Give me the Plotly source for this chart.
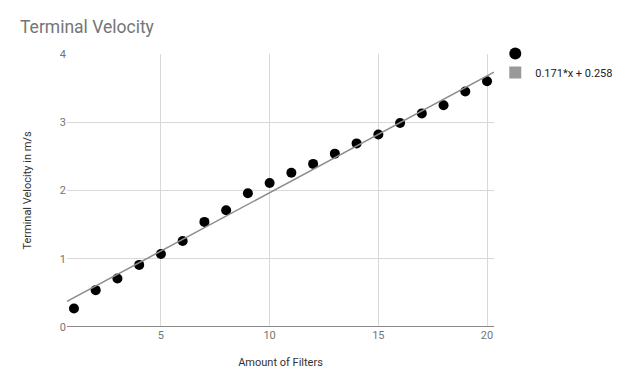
import plotly.graph_objects as go

filters = list(range(1, 21))
velocity = [0.27, 0.54, 0.71, 0.91, 1.07, 1.26, 1.54, 1.71, 1.96, 2.11,
            2.26, 2.39, 2.54, 2.69, 2.82, 2.99, 3.13, 3.25, 3.45, 3.60]
slope = 0.171
intercept = 0.258
trend_label = "0.171*x + 0.258"
x_range = [0.68, 20.32]
x_ticks = [5, 10, 15, 20]
y_ticks = [0, 1, 2, 3, 4]

trend_x = x_range
trend_y = [slope * v + intercept for v in trend_x]

fig = go.Figure()
fig.add_trace(go.Scatter(
    x=filters, y=velocity, mode="markers", name="",
    marker=dict(color="black", size=10, symbol="circle"),
))
fig.add_trace(go.Scatter(
    x=trend_x, y=trend_y, mode="lines", showlegend=False,
    line=dict(color="#8c8c8c", width=1.5),
))
fig.add_trace(go.Scatter(
    x=[None], y=[None], mode="markers", name=trend_label,
    marker=dict(color="#999999", size=10, symbol="square"),
))

fig.update_layout(
    width=616, height=380,
    margin=dict(l=59, r=130, t=46, b=61, autoexpand=False),
    paper_bgcolor="white", plot_bgcolor="white",
    font=dict(family="Roboto", color="#222222", size=11),
    title=dict(text="Terminal Velocity", x=0.0195, xanchor="left",
               y=0.95, yanchor="middle",
               font=dict(size=17.5, color="#757575", family="Roboto")),
    showlegend=True,
    legend=dict(x=1.003, y=1.055, xanchor="left", yanchor="top",
                font=dict(size=11, color="#222222"),
                itemsizing="constant", tracegroupgap=2,
                bgcolor="rgba(0,0,0,0)"),
    xaxis=dict(range=x_range, tickvals=x_ticks, showgrid=True,
               gridcolor="#d9d9d9", gridwidth=1, zeroline=False,
               showline=False, ticks="", ticklen=0, automargin=False,
               tickfont=dict(color="#757575", size=11),
               title=dict(text="Amount of Filters", standoff=17,
                          font=dict(size=11, color="#333333"))),
    yaxis=dict(range=[0, 4.0], tickvals=y_ticks, showgrid=True,
               gridcolor="#d9d9d9", gridwidth=1, zeroline=False,
               showline=False, ticks="", automargin=False,
               tickfont=dict(color="#757575", size=11),
               title=dict(text="Terminal Velocity in m/s", standoff=25,
                          font=dict(size=11, color="#333333"))),
    shapes=[dict(type="line", xref="paper", yref="y", x0=0, x1=1,
                 y0=0, y1=0, line=dict(color="#888888", width=2))],
)

fig.write_html("out.html")
